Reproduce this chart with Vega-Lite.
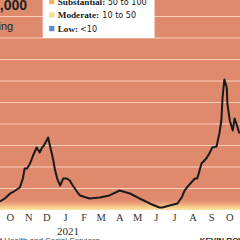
{
  "$schema": "https://vega.github.io/schema/vega-lite/v6.json",
  "width": 240,
  "height": 210,
  "autosize": {"type": "none"},
  "padding": {"left": 0, "top": 0, "right": 0, "bottom": 30},
  "background": "white",
  "config": {
    "view": {"fill": "#df8a6d", "stroke": null},
    "font": "Liberation Sans Narrow"
  },
  "data": {"values": [{}]},
  "datasets": {
    "cases": [
      {"date": "2020-09-28", "rate": 99}, {"date": "2020-10-06", "rate": 134}, {"date": "2020-10-15", "rate": 192},
      {"date": "2020-10-21", "rate": 215}, {"date": "2020-10-26", "rate": 238}, {"date": "2020-10-31", "rate": 262},
      {"date": "2020-11-05", "rate": 366}, {"date": "2020-11-08", "rate": 483}, {"date": "2020-11-12", "rate": 483},
      {"date": "2020-11-17", "rate": 541}, {"date": "2020-11-22", "rate": 634}, {"date": "2020-11-28", "rate": 727},
      {"date": "2020-12-03", "rate": 669}, {"date": "2020-12-07", "rate": 727}, {"date": "2020-12-10", "rate": 750},
      {"date": "2020-12-17", "rate": 843}, {"date": "2020-12-20", "rate": 750}, {"date": "2020-12-25", "rate": 599},
      {"date": "2020-12-28", "rate": 483}, {"date": "2021-01-01", "rate": 366}, {"date": "2021-01-06", "rate": 285},
      {"date": "2021-01-11", "rate": 366}, {"date": "2021-01-17", "rate": 366}, {"date": "2021-01-22", "rate": 343},
      {"date": "2021-01-27", "rate": 285}, {"date": "2021-02-04", "rate": 203}, {"date": "2021-02-08", "rate": 169},
      {"date": "2021-02-24", "rate": 134}, {"date": "2021-03-13", "rate": 145}, {"date": "2021-03-29", "rate": 169},
      {"date": "2021-04-15", "rate": 227}, {"date": "2021-05-02", "rate": 192}, {"date": "2021-05-18", "rate": 134},
      {"date": "2021-06-04", "rate": 76}, {"date": "2021-06-20", "rate": 29}, {"date": "2021-06-25", "rate": 29},
      {"date": "2021-07-07", "rate": 52}, {"date": "2021-07-20", "rate": 76}, {"date": "2021-07-27", "rate": 145},
      {"date": "2021-08-01", "rate": 227}, {"date": "2021-08-09", "rate": 297}, {"date": "2021-08-18", "rate": 366},
      {"date": "2021-08-22", "rate": 366}, {"date": "2021-08-29", "rate": 541}, {"date": "2021-09-06", "rate": 599},
      {"date": "2021-09-11", "rate": 657}, {"date": "2021-09-16", "rate": 727}, {"date": "2021-09-23", "rate": 738},
      {"date": "2021-09-28", "rate": 901}, {"date": "2021-10-01", "rate": 1041}, {"date": "2021-10-03", "rate": 1308},
      {"date": "2021-10-06", "rate": 1517}, {"date": "2021-10-10", "rate": 1424}, {"date": "2021-10-11", "rate": 1238},
      {"date": "2021-10-15", "rate": 1041}, {"date": "2021-10-20", "rate": 924}, {"date": "2021-10-23", "rate": 1064},
      {"date": "2021-10-26", "rate": 1006}, {"date": "2021-10-31", "rate": 890}
    ],
    "bands": [
      {"lo": 0, "hi": 115}
    ],
    "grid": [
      {"v": 250}, {"v": 500}, {"v": 750}, {"v": 1000}, {"v": 1250},
      {"v": 1500}, {"v": 1750}, {"v": 2000}, {"v": 2250}
    ],
    "months": [
      {"date": "2020-10-15", "label": "O"}, {"date": "2020-11-15", "label": "N"}, {"date": "2020-12-15", "label": "D"},
      {"date": "2021-01-15", "label": "J"}, {"date": "2021-02-15", "label": "F"}, {"date": "2021-03-15", "label": "M"},
      {"date": "2021-04-15", "label": "A"}, {"date": "2021-05-15", "label": "M"}, {"date": "2021-06-15", "label": "J"},
      {"date": "2021-07-15", "label": "J"}, {"date": "2021-08-15", "label": "A"}, {"date": "2021-09-15", "label": "S"},
      {"date": "2021-10-15", "label": "O"}
    ]
  },
  "layer": [
    {
      "data": {"name": "bands"},
      "mark": {
        "type": "rect",
        "color": {
          "gradient": "linear", "x1": 0, "x2": 0, "y1": 0, "y2": 1,
          "stops": [
            {"offset": 0, "color": "#df8a6d"},
            {"offset": 0.35, "color": "#eca27a"},
            {"offset": 0.7, "color": "#f7cc8a"},
            {"offset": 1, "color": "#fce4a2"}
          ]
        }
      },
      "encoding": {
        "y": {"field": "lo", "type": "quantitative", "scale": {"domain": [0, 2442], "nice": false, "zero": true}, "axis": null},
        "y2": {"field": "hi"}
      }
    },
    {
      "data": {"name": "grid"},
      "mark": {"type": "rule", "color": "#f8d0bc", "strokeWidth": 1.2},
      "encoding": {
        "y": {"field": "v", "type": "quantitative", "scale": {"domain": [0, 2442], "nice": false, "zero": true}, "axis": null}
      }
    },
    {
      "data": {"name": "cases"},
      "mark": {"type": "line", "color": "#1a1a1a", "strokeWidth": 2, "strokeJoin": "round"},
      "encoding": {
        "x": {
          "field": "date", "type": "temporal",
          "scale": {"domain": [{"year": 2020, "month": 9, "date": 28}, {"year": 2021, "month": 11, "date": 1}]},
          "axis": {"title": null, "domain": false, "ticks": false, "grid": false, "labels": false}
        },
        "y": {"field": "rate", "type": "quantitative", "scale": {"domain": [0, 2442], "nice": false, "zero": true}, "axis": null}
      }
    },
    {
      "data": {"name": "months"},
      "mark": {"type": "text", "align": "center", "baseline": "middle", "font": "Liberation Sans Narrow", "fontSize": 10.5, "color": "#333333"},
      "encoding": {
        "x": {"field": "date", "type": "temporal"},
        "y": {"datum": -93, "type": "quantitative"},
        "text": {"field": "label"}
      }
    },
    {
      "mark": {"type": "text", "align": "center", "baseline": "top", "font": "Liberation Sans Narrow", "fontSize": 11, "color": "#333333"},
      "encoding": {
        "x": {"datum": {"year": 2021, "month": 1, "date": 19}, "type": "temporal"},
        "y": {"datum": -186, "type": "quantitative"},
        "text": {"value": "2021"}
      }
    },
    {
      "mark": {"type": "rect", "color": "white"},
      "encoding": {
        "x": {"datum": {"year": 2020, "month": 12, "date": 8}, "type": "temporal"},
        "x2": {"datum": {"year": 2021, "month": 6, "date": 12}},
        "y": {"datum": 2000, "type": "quantitative"},
        "y2": {"datum": 2442}
      }
    },
    {
      "mark": {"type": "text", "align": "right", "baseline": "alphabetic", "font": "Liberation Sans", "fontWeight": "bold", "fontSize": 14, "color": "#222222"},
      "encoding": {
        "x": {"datum": {"year": 2020, "month": 11, "date": 12}, "type": "temporal"},
        "y": {"datum": 2326, "type": "quantitative"},
        "text": {"value": "Cases per 100,000"}
      }
    },
    {
      "mark": {"type": "text", "align": "right", "baseline": "alphabetic", "font": "Liberation Sans", "fontSize": 11, "color": "#222222"},
      "encoding": {
        "x": {"datum": {"year": 2020, "month": 10, "date": 20}, "type": "temporal"},
        "y": {"datum": 2093, "type": "quantitative"},
        "text": {"value": "Seven-day average, by date of testing"}
      }
    },
    {
      "mark": {"type": "text", "align": "right", "baseline": "alphabetic", "font": "Liberation Sans", "fontSize": 8, "color": "#444444"},
      "encoding": {
        "x": {"datum": {"year": 2021, "month": 3, "date": 13}, "type": "temporal"},
        "y": {"datum": -384, "type": "quantitative"},
        "text": {"value": "Source: Alaska Department of Health and Social Services"}
      }
    },
    {
      "mark": {"type": "text", "align": "left", "baseline": "alphabetic", "font": "Liberation Sans", "fontWeight": "bold", "fontSize": 8, "color": "#222222"},
      "encoding": {
        "x": {"datum": {"year": 2021, "month": 8, "date": 26}, "type": "temporal"},
        "y": {"datum": -384, "type": "quantitative"},
        "text": {"value": "KEVIN ROWE / STAFF"}
      }
    },
    {
      "mark": {"type": "square", "size": 28, "opacity": 1, "color": "#f2b35a"},
      "encoding": {
        "x": {"datum": {"year": 2020, "month": 12, "date": 23}, "type": "temporal"},
        "y": {"datum": 2424, "type": "quantitative"}
      }
    },
    {
      "mark": {"type": "square", "size": 28, "opacity": 1, "color": "#f8dc8f"},
      "encoding": {
        "x": {"datum": {"year": 2020, "month": 12, "date": 23}, "type": "temporal"},
        "y": {"datum": 2267, "type": "quantitative"}
      }
    },
    {
      "mark": {"type": "square", "size": 28, "opacity": 1, "color": "#5a8fcc"},
      "encoding": {
        "x": {"datum": {"year": 2020, "month": 12, "date": 23}, "type": "temporal"},
        "y": {"datum": 2110, "type": "quantitative"}
      }
    },
    {
      "mark": {"type": "text", "align": "left", "baseline": "middle", "font": "Liberation Sans Narrow", "fontWeight": "bold", "fontSize": 9.2, "color": "#1a1a1a"},
      "encoding": {
        "x": {"datum": {"year": 2021, "month": 1, "date": 2}, "type": "temporal"},
        "y": {"datum": 2424, "type": "quantitative"},
        "text": {"value": "Substantial:"}
      }
    },
    {
      "mark": {"type": "text", "align": "left", "baseline": "middle", "font": "Liberation Sans Narrow", "fontWeight": "bold", "fontSize": 9.2, "color": "#1a1a1a"},
      "encoding": {
        "x": {"datum": {"year": 2021, "month": 1, "date": 2}, "type": "temporal"},
        "y": {"datum": 2267, "type": "quantitative"},
        "text": {"value": "Moderate:"}
      }
    },
    {
      "mark": {"type": "text", "align": "left", "baseline": "middle", "font": "Liberation Sans Narrow", "fontWeight": "bold", "fontSize": 9.2, "color": "#1a1a1a"},
      "encoding": {
        "x": {"datum": {"year": 2021, "month": 1, "date": 2}, "type": "temporal"},
        "y": {"datum": 2110, "type": "quantitative"},
        "text": {"value": "Low:"}
      }
    },
    {
      "mark": {"type": "text", "align": "left", "baseline": "middle", "font": "DejaVu Sans Condensed", "fontSize": 9, "color": "#1a1a1a"},
      "encoding": {
        "x": {"datum": {"year": 2021, "month": 3, "date": 26}, "type": "temporal"},
        "y": {"datum": 2424, "type": "quantitative"},
        "text": {"value": "50 to 100"}
      }
    },
    {
      "mark": {"type": "text", "align": "left", "baseline": "middle", "font": "DejaVu Sans Condensed", "fontSize": 9, "color": "#1a1a1a"},
      "encoding": {
        "x": {"datum": {"year": 2021, "month": 3, "date": 17}, "type": "temporal"},
        "y": {"datum": 2267, "type": "quantitative"},
        "text": {"value": "10 to 50"}
      }
    },
    {
      "mark": {"type": "text", "align": "left", "baseline": "middle", "font": "DejaVu Sans Condensed", "fontSize": 9, "color": "#1a1a1a"},
      "encoding": {
        "x": {"datum": {"year": 2021, "month": 2, "date": 8}, "type": "temporal"},
        "y": {"datum": 2110, "type": "quantitative"},
        "text": {"value": "<10"}
      }
    }
  ]
}
